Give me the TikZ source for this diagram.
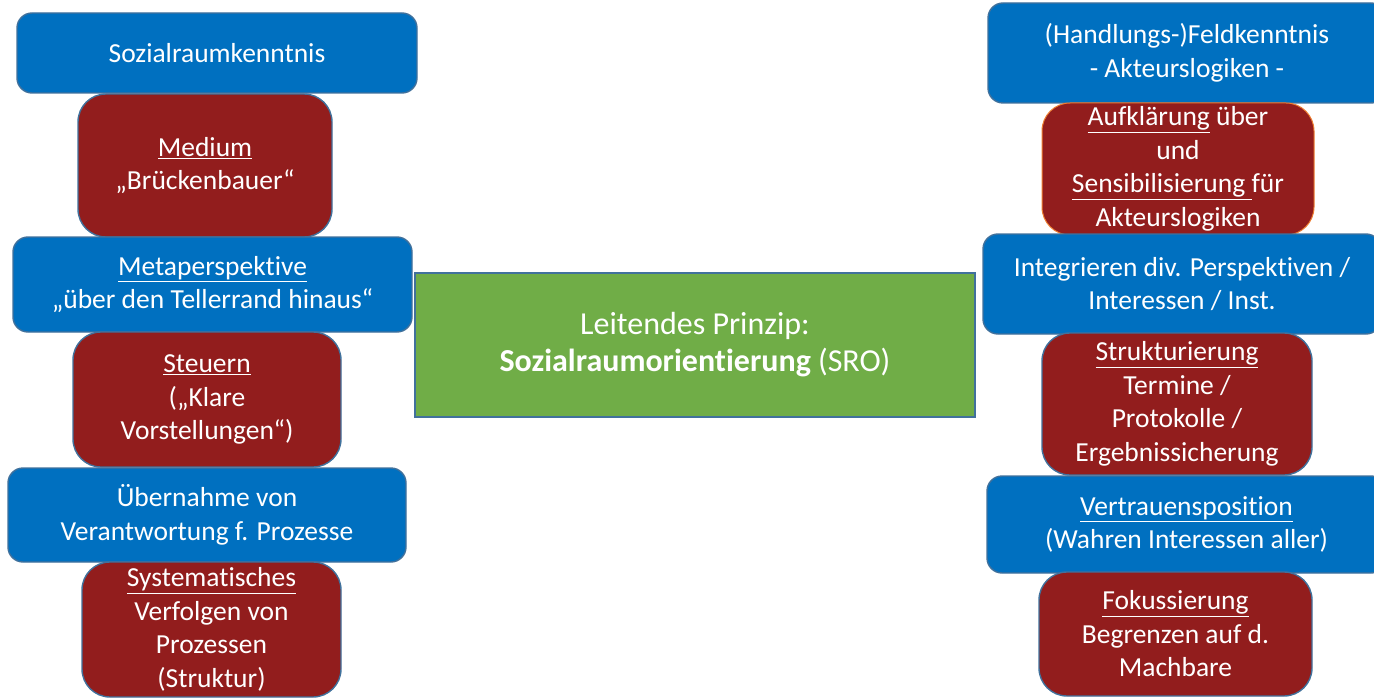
\documentclass[tikz,border=0pt]{standalone}
\usepackage{fontspec}
\setmainfont{Carlito}[Ligatures=NoCommon]
\definecolor{boxblue}{RGB}{0,112,192}
\definecolor{boxred}{RGB}{146,29,29}
\definecolor{boxgreen}{RGB}{112,173,71}
\definecolor{edgeblue}{RGB}{65,113,156}
\definecolor{edgeorange}{RGB}{237,125,49}
\tikzset{
  card/.style={draw=edgeblue, line width=1.4pt, text=white, align=center,
    inner sep=0pt, font=\fontsize{27.5}{33.5}\selectfont},
  bluecard/.style={card, fill=boxblue, rounded corners=15pt},
  redcard/.style={card, fill=boxred, rounded corners=28pt},
  greencard/.style={card, fill=boxgreen, rounded corners=0pt,
    font=\fontsize{32}{37}\selectfont},
}
\newcommand{\ul}[1]{\underline{#1}}
\begin{document}
\begin{tikzpicture}[x=1pt,y=-1pt]
\useasboundingbox (0,0) rectangle (1374,698);
\begin{scope}
\clip (0,0) rectangle (1374,698);
% left column
\node[bluecard, minimum width=400pt, minimum height=80pt] (soz) at (217,53) {Sozialraumkenntnis};
\node[redcard, minimum width=254pt, minimum height=143pt] (med) at (205,165.5) {\ul{Medium}\\„Brückenbauer“};
\node[bluecard, minimum width=399pt, minimum height=95pt] (meta) at (212.5,284.5) {\ul{Metaperspektive}\\„über den Tellerrand hinaus“};
\node[redcard, minimum width=268pt, minimum height=135pt] (steu) at (207,399.5) {\ul{Steuern}\\(„Klare\\Vorstellungen“)};
\node[bluecard, minimum width=398pt, minimum height=94pt] (uebn) at (207,515) {Übernahme von\\Verantwortung f. Prozesse};
\node[redcard, minimum width=259pt, minimum height=135pt] (sys) at (211.5,629.5) {\ul{Systematisches}\\Verfolgen von\\Prozessen\\(Struktur)};
% centre
\node[greencard, minimum width=560pt, minimum height=144pt] (sro) at (695,345) {Leitendes Prinzip:\\\textbf{Sozialraumorientierung} (SRO)};
% right column
\node[bluecard, minimum width=398pt, minimum height=100pt] (feld) at (1187,53) {(Handlungs-)Feldkenntnis\\- Akteurslogiken -};
\node[redcard, draw=edgeorange, line width=1pt, minimum width=272pt, minimum height=132pt] (aufk) at (1178,169) {\ul{Aufklärung} über\\und\\\ul{Sensibilisierung }für\\Akteurslogiken};
\node[bluecard, minimum width=398pt, minimum height=100pt] (integ) at (1182,284) {Integrieren div. Perspektiven /\\Interessen / Inst.};
\node[redcard, minimum width=270pt, minimum height=142pt] (strukt) at (1177,404) {\ul{Strukturierung}\\Termine /\\Protokolle /\\Ergebnissicherung};
\node[bluecard, minimum width=399pt, minimum height=97pt] (vert) at (1186.5,524.5) {\ul{Vertrauensposition}\\(Wahren Interessen aller)};
\node[redcard, minimum width=273pt, minimum height=124pt] (foku) at (1175.5,634) {\ul{Fokussierung}\\Begrenzen auf d.\\Machbare};
\end{scope}
\end{tikzpicture}
\end{document}
